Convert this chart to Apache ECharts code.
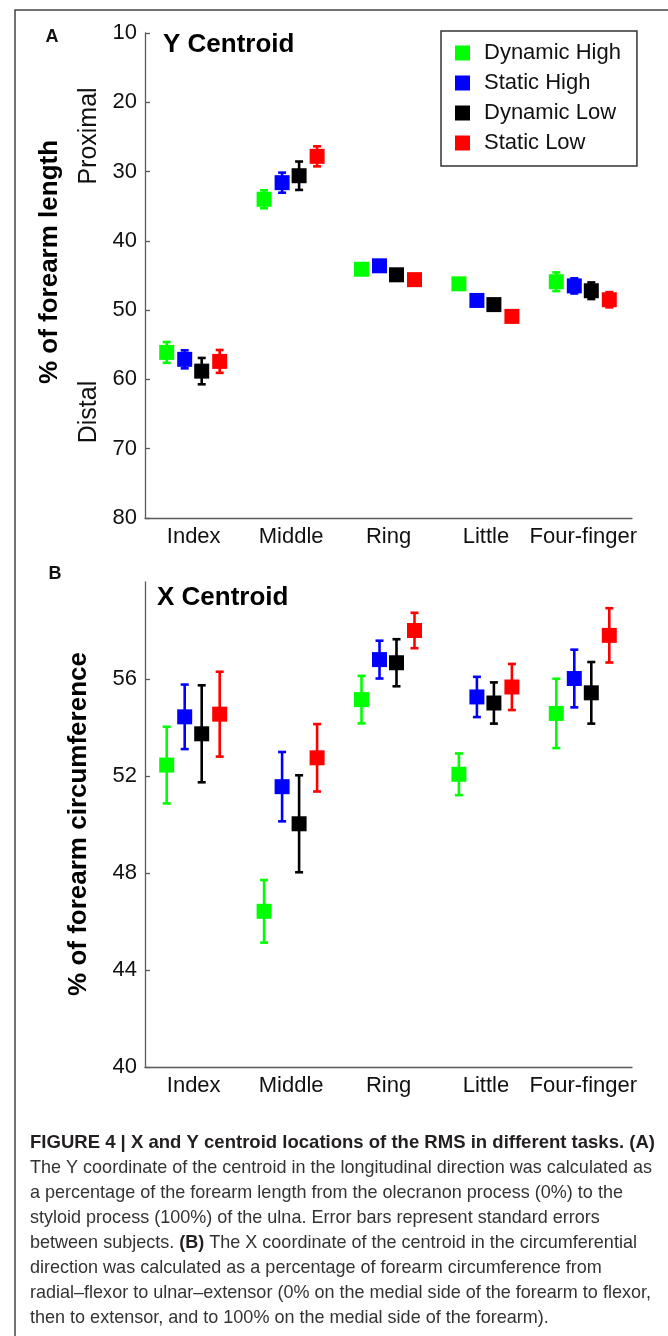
<!DOCTYPE html>
<html><head><meta charset="utf-8">
<script src="https://cdn.jsdelivr.net/npm/echarts@6/dist/echarts.min.js"></script>
<style>html,body{margin:0;padding:0;background:#fff}#c{width:668px;height:1336px}</style>
</head><body><div id="c"></div>
<script>
// ---------- data ----------
const categories = ['Index', 'Middle', 'Ring', 'Little', 'Four-finger'];
const seriesNames = ['Dynamic High', 'Static High', 'Dynamic Low', 'Static Low'];
const seriesColors = ['#00ff00', '#0000ff', '#000000', '#ff0000'];
const yTicksA = [10, 20, 30, 40, 50, 60, 70, 80];
const yTicksB = [40, 44, 48, 52, 56];

// Panel A: Y centroid (% of forearm length), mean and standard error
const yDynamicHigh    = [56.1, 34.0, 44.1, 46.2, 45.9];
const yDynamicHighErr = [1.5, 1.3, 0.6, 0.5, 1.35];
const yStaticHigh     = [57.1, 31.6, 43.6, 48.6, 46.5];
const yStaticHighErr  = [1.3, 1.45, 0.5, 0.5, 1.1];
const yDynamicLow     = [58.8, 30.6, 44.9, 49.2, 47.2];
const yDynamicLowErr  = [1.9, 2.05, 0.6, 0.6, 1.2];
const yStaticLow      = [57.4, 27.8, 45.6, 50.9, 48.5];
const yStaticLowErr   = [1.65, 1.45, 0.6, 0.6, 1.1];

// Panel B: X centroid (% of forearm circumference), mean and standard error
const xDynamicHigh    = [52.45, 46.42, 55.15, 52.07, 54.58];
const xDynamicHighErr = [1.58, 1.29, 0.98, 0.86, 1.43];
const xStaticHigh     = [54.44, 51.56, 56.8, 55.26, 56.02];
const xStaticHighErr  = [1.33, 1.43, 0.78, 0.83, 1.19];
const xDynamicLow     = [53.74, 50.03, 56.67, 55.01, 55.43];
const xDynamicLowErr  = [2.0, 2.0, 0.97, 0.85, 1.27];
const xStaticLow      = [54.55, 52.75, 58.0, 55.67, 57.8];
const xStaticLowErr   = [1.75, 1.39, 0.73, 0.95, 1.12];

const captionTitle = 'FIGURE 4 | X and Y centroid locations of the RMS in different tasks. (A)';
const captionLines = [
  'The Y coordinate of the centroid in the longitudinal direction was calculated as',
  'a percentage of the forearm length from the olecranon process (0%) to the',
  'styloid process (100%) of the ulna. Error bars represent standard errors',
  ['between subjects. ', '(B)', ' The X coordinate of the centroid in the circumferential'],
  'direction was calculated as a percentage of forearm circumference from',
  'radial\u2013flexor to ulnar\u2013extensor (0% on the medial side of the forearm to flexor,',
  'then to extensor, and to 100% on the medial side of the forearm).'
];

// ---------- chart ----------
const F = '"Liberation Sans", Arial, Helvetica, sans-serif';
const axisColor = '#5a5a5a';
const offsets = [-27, -9, 8, 26];

const yMeans = [yDynamicHigh, yStaticHigh, yDynamicLow, yStaticLow];
const yErrs = [yDynamicHighErr, yStaticHighErr, yDynamicLowErr, yStaticLowErr];
const xMeans = [xDynamicHigh, xStaticHigh, xDynamicLow, xStaticLow];
const xErrs = [xDynamicHighErr, xStaticHighErr, xDynamicLowErr, xStaticLowErr];

function renderer(offset) {
  return function (params, api) {
    const idx = api.value(0), m = api.value(1), e = api.value(2);
    const c = api.coord([idx, m]);
    const lo = api.coord([idx, m - e]);
    const hi = api.coord([idx, m + e]);
    const x = c[0] + offset;
    const color = api.visual('color');
    const lw = 2.6, cap = 4;
    return {
      type: 'group', children: [
        { type: 'line', shape: { x1: x, y1: lo[1], x2: x, y2: hi[1] }, style: { stroke: color, lineWidth: lw } },
        { type: 'line', shape: { x1: x - cap, y1: lo[1], x2: x + cap, y2: lo[1] }, style: { stroke: color, lineWidth: lw } },
        { type: 'line', shape: { x1: x - cap, y1: hi[1], x2: x + cap, y2: hi[1] }, style: { stroke: color, lineWidth: lw } },
        { type: 'rect', shape: { x: x - 7.5, y: c[1] - 7.5, width: 15, height: 15 }, style: { fill: color } }
      ]
    };
  };
}

const series = [];
seriesNames.forEach((name, s) => {
  series.push({
    name, type: 'custom', xAxisIndex: 0, yAxisIndex: 0, clip: false,
    itemStyle: { color: seriesColors[s] },
    renderItem: renderer(offsets[s]),
    encode: { x: 0, y: 1 },
    data: categories.map((c, i) => [i, yMeans[s][i], yErrs[s][i]])
  });
  series.push({
    name, type: 'custom', xAxisIndex: 1, yAxisIndex: 1, clip: false,
    itemStyle: { color: seriesColors[s] },
    renderItem: renderer(offsets[s]),
    encode: { x: 0, y: 1 },
    data: categories.map((c, i) => [i, xMeans[s][i], xErrs[s][i]])
  });
});

function xAxis(g) {
  return {
    gridIndex: g, type: 'category', data: categories, boundaryGap: true,
    axisLine: { lineStyle: { color: axisColor, width: 1.3 } },
    axisTick: { inside: true, alignWithLabel: true, length: 5, lineStyle: { color: axisColor, width: 1.3 } },
    axisLabel: { fontSize: 22, color: '#111', margin: 8, fontFamily: F, interval: 0 },
    splitLine: { show: false }
  };
}

// caption horizontal condensing (Helvetica Condensed look) measured against the reference line widths
const mctx = document.createElement('canvas').getContext('2d');
mctx.font = '19px "Liberation Sans"';
const sxBody = 622 / mctx.measureText(captionLines[0]).width;
mctx.font = 'bold 19px "Liberation Sans"';
const sxTitle = 625 / mctx.measureText(captionTitle).width;

const graphic = [
  { type: 'rect', shape: { x: 15, y: 10, width: 700, height: 1400 }, style: { fill: 'none', stroke: '#444', lineWidth: 1.5 }, silent: true },
  { type: 'text', x: 52, y: 37, style: { text: 'A', font: 'bold 18px ' + F, fill: '#111', align: 'center', verticalAlign: 'middle' } },
  { type: 'text', x: 55, y: 574, style: { text: 'B', font: 'bold 18px ' + F, fill: '#111', align: 'center', verticalAlign: 'middle' } },
  { type: 'text', x: 163, y: 45, style: { text: 'Y Centroid', font: 'bold 26px ' + F, fill: '#000', align: 'left', verticalAlign: 'middle' } },
  { type: 'text', x: 157, y: 598, style: { text: 'X Centroid', font: 'bold 26px ' + F, fill: '#000', align: 'left', verticalAlign: 'middle' } },
  { type: 'text', x: 50, y: 262, rotation: Math.PI / 2, style: { text: '% of forearm length', font: 'bold 26px ' + F, fill: '#000', align: 'center', verticalAlign: 'middle' } },
  { type: 'text', x: 89, y: 136, rotation: Math.PI / 2, style: { text: 'Proximal', font: '25px ' + F, fill: '#111', align: 'center', verticalAlign: 'middle' } },
  { type: 'text', x: 89, y: 412, rotation: Math.PI / 2, style: { text: 'Distal', font: '25px ' + F, fill: '#111', align: 'center', verticalAlign: 'middle' } },
  { type: 'text', x: 79, y: 824, rotation: Math.PI / 2, style: { text: '% of forearm circumference', font: 'bold 26px ' + F, fill: '#000', align: 'center', verticalAlign: 'middle' } },
  { type: 'text', x: 30, y: 1143, scaleX: sxTitle, style: { text: captionTitle, font: 'bold 19px ' + F, fill: '#231f20', align: 'left', verticalAlign: 'middle' } }
];
captionLines.forEach((ln, k) => {
  const y = 1168 + 25 * k;
  if (Array.isArray(ln)) {
    graphic.push({ type: 'text', x: 30, y, scaleX: sxBody, style: {
      text: '{n|' + ln[0] + '}{b|' + ln[1] + '}{n|' + ln[2] + '}',
      verticalAlign: 'middle', align: 'left',
      rich: { n: { font: '19px ' + F, fill: '#333' }, b: { font: 'bold 19px ' + F, fill: '#231f20' } }
    } });
  } else {
    graphic.push({ type: 'text', x: 30, y, scaleX: sxBody, style: { text: ln, font: '19px ' + F, fill: '#333', align: 'left', verticalAlign: 'middle' } });
  }
});

const option = {
  animation: false,
  backgroundColor: '#fff',
  grid: [
    { left: 145, top: 33, width: 487, height: 485 },
    { left: 145, top: 582, width: 487, height: 485 }
  ],
  xAxis: [xAxis(0), xAxis(1)],
  yAxis: [
    {
      gridIndex: 0, type: 'value', inverse: true, min: yTicksA[0], max: yTicksA[yTicksA.length - 1], interval: 10,
      axisLine: { show: true, lineStyle: { color: axisColor, width: 1.3 } },
      axisTick: { show: true, inside: true, length: 5, lineStyle: { color: axisColor, width: 1.3 } },
      axisLabel: { fontSize: 22, color: '#111', margin: 8, fontFamily: F },
      splitLine: { show: false }
    },
    {
      gridIndex: 1, type: 'value', min: 40, max: 60, interval: 4,
      axisLine: { show: true, lineStyle: { color: axisColor, width: 1.3 } },
      axisTick: { show: true, inside: true, length: 5, customValues: yTicksB, lineStyle: { color: axisColor, width: 1.3 } },
      axisLabel: { fontSize: 22, color: '#111', margin: 8, fontFamily: F, customValues: yTicksB },
      splitLine: { show: false }
    }
  ],
  legend: {
    data: seriesNames, orient: 'vertical', left: 441, top: 31,
    icon: 'rect', itemWidth: 15, itemHeight: 15, itemGap: 8,
    padding: [11, 16, 12, 14],
    borderColor: '#333', borderWidth: 1.5, backgroundColor: '#fff',
    selectedMode: false,
    textStyle: { fontSize: 22, fontFamily: F, color: '#111', lineHeight: 22, padding: [0, 0, 0, 9] }
  },
  graphic,
  series
};

const chart = echarts.init(document.getElementById('c'), null, { renderer: 'canvas' });
chart.setOption(option);
</script>
</body></html>
